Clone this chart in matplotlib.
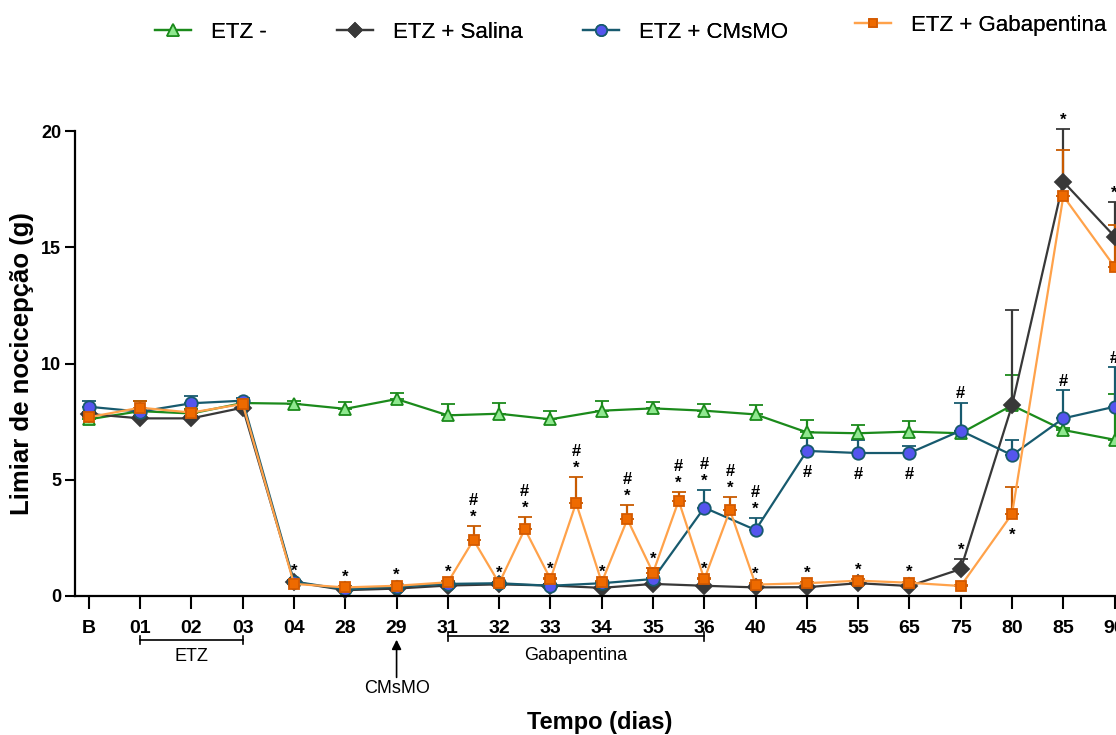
import matplotlib.pyplot as plt
import matplotlib.transforms as mtransforms
from matplotlib.lines import Line2D
import numpy as np

plt.rcParams['font.family'] = ['Liberation Sans', 'DejaVu Sans']

# --- data ---
x_labels = ['B', '01', '02', '03', '04', '28', '29', '31', '32', '33', '34',
            '35', '36', '40', '45', '55', '65', '75', '80', '85', '90']
x_main = list(range(len(x_labels)))
# gabapentina group was also measured between the days of treatment
x_gaba = [0, 1, 2, 3, 4, 5, 6, 7, 7.5, 8, 8.5, 9, 9.5, 10, 10.5, 11, 11.5,
          12, 12.5, 13, 14, 15, 16, 17, 18, 19, 20]

etz_neg = [7.6, 7.95, 7.85, 8.3, 8.27, 8.05, 8.47, 7.77, 7.84, 7.6, 7.97,
           8.07, 7.97, 7.81, 7.04, 7.0, 7.07, 7.0, 8.2, 7.14, 6.72]
etz_neg_err = [0.15, 0.45, 0.2, 0.1, 0.1, 0.3, 0.25, 0.48, 0.45, 0.37, 0.43,
               0.26, 0.3, 0.4, 0.53, 0.35, 0.46, 0.1, 1.3, 0.1, 1.95]

salina = [7.83, 7.64, 7.64, 8.1, 0.6, 0.25, 0.32, 0.45, 0.5, 0.45, 0.35,
          0.52, 0.44, 0.37, 0.38, 0.55, 0.43, 1.16, 8.2, 17.82, 15.46]
salina_err = [0.1, 0.1, 0.1, 0.1, 0.1, 0.05, 0.05, 0.05, 0.05, 0.05, 0.05,
              0.05, 0.05, 0.05, 0.05, 0.05, 0.05, 0.42, 4.1, 2.25, 1.5]

cmsmo = [8.14, 7.93, 8.29, 8.4, 0.62, 0.28, 0.4, 0.52, 0.55, 0.44, 0.55,
         0.73, 3.8, 2.84, 6.24, 6.15, 6.15, 7.11, 6.06, 7.64, 8.14]
cmsmo_err = [0.25, 0.1, 0.33, 0.1, 0.05, 0.05, 0.05, 0.05, 0.05, 0.05, 0.05,
             0.05, 0.75, 0.5, 0.54, 0.55, 0.3, 1.2, 0.65, 1.2, 1.7]

gaba = [7.69, 8.1, 7.89, 8.26, 0.52, 0.37, 0.44, 0.59, 2.41, 0.55, 2.88,
        0.73, 4.0, 0.59, 3.3, 1.0, 4.1, 0.72, 3.69, 0.49, 0.55, 0.66, 0.57,
        0.43, 3.53, 17.2, 14.16]
gaba_err = [0.1, 0.3, 0.1, 0.1, 0.05, 0.05, 0.05, 0.05, 0.6, 0.05, 0.53,
            0.05, 1.1, 0.05, 0.6, 0.2, 0.37, 0.05, 0.57, 0.05, 0.05, 0.05,
            0.05, 0.05, 1.15, 2.0, 1.8]

# significance marks: (x position, group, text, side)
marks = [
    (4, 'sal', '*', 'up'), (5, 'gab', '*', 'up'), (6, 'gab', '*', 'up'),
    (7, 'gab', '*', 'up'), (7.5, 'gab', '#\n*', 'up'), (8, 'gab', '*', 'up'),
    (8.5, 'gab', '#\n*', 'up'), (9, 'gab', '*', 'up'), (9.5, 'gab', '#\n*', 'up'),
    (10, 'gab', '*', 'up'), (10.5, 'gab', '#\n*', 'up'), (11, 'gab', '*', 'up'),
    (11.5, 'gab', '#\n*', 'up'), (12, 'cms', '#\n*', 'up'), (12, 'gab', '*', 'up'),
    (12.5, 'gab', '#\n*', 'up'), (13, 'cms', '#\n*', 'up'), (13, 'gab', '*', 'up'),
    (14, 'cms', '#', 'down'), (14, 'gab', '*', 'up'),
    (15, 'cms', '#', 'down'), (15, 'gab', '*', 'up'),
    (16, 'cms', '#', 'down'), (16, 'gab', '*', 'up'),
    (17, 'cms', '#', 'up'), (17, 'sal', '*', 'up'),
    (18, 'gab', '*', 'down'),
    (19, 'sal', '*', 'up'), (19, 'cms', '#', 'up'),
    (20, 'sal', '*', 'up'), (20, 'cms', '#', 'up'),
]

labels = ['ETZ -', 'ETZ + Salina', 'ETZ + CMsMO', 'ETZ + Gabapentina']

styles = {
    'neg': dict(color='#1b8a1b', marker='^', mfc='#8fe88f', mec='#1b8a1b', ms=9, ecolor='#1b8a1b'),
    'sal': dict(color='#383838', marker='D', mfc='#383838', mec='#383838', ms=8, ecolor='#383838'),
    'cms': dict(color='#175a6e', marker='o', mfc='#5555ee', mec='#175a6e', ms=9, ecolor='#175a6e'),
    'gab': dict(color='#ffa24a', marker='s', mfc='#ee6a00', mec='#d45a00', ms=6.5, ecolor='#c85a00'),
}
series = {
    'neg': (x_main, etz_neg, etz_neg_err),
    'sal': (x_main, salina, salina_err),
    'cms': (x_main, cmsmo, cmsmo_err),
    'gab': (x_gaba, gaba, gaba_err),
}

fig = plt.figure(figsize=(11.16, 7.35), dpi=100)
ax = fig.add_axes([75 / 1116, 139 / 735, 1055 / 1116, 465 / 735])

handles = []
for key, lab in zip(['neg', 'sal', 'cms', 'gab'], labels):
    xs, ys, es = series[key]
    st = styles[key]
    ax.errorbar(xs, ys, yerr=[np.zeros(len(es)), es], color=st['color'], lw=1.6,
                marker=st['marker'], mfc=st['mfc'], mec=st['mec'], ms=st['ms'],
                mew=1.3, ecolor=st['ecolor'], elinewidth=1.6, capsize=5,
                capthick=1.6, clip_on=False)
    handles.append(Line2D([], [], color=st['color'], lw=1.6, marker=st['marker'],
                          mfc=st['mfc'], mec=st['mec'], ms=st['ms'] * 0.9, mew=1.2))

for xp, key, txt, side in marks:
    xs, ys, es = series[key]
    i = list(xs).index(xp)
    if side == 'up':
        ax.annotate(txt, (xp, ys[i] + es[i]), xytext=(0, 1), textcoords='offset points',
                    ha='center', va='bottom', fontsize=12, fontweight='bold',
                    linespacing=1.15, annotation_clip=False)
    else:
        ax.annotate(txt, (xp, ys[i]), xytext=(0, -10), textcoords='offset points',
                    ha='center', va='top', fontsize=12, fontweight='bold',
                    annotation_clip=False)

ax.set_xlim(-0.27, 20.3)
ax.set_ylim(0, 20)
ax.set_yticks([0, 5, 10, 15, 20])
ax.set_xticks(x_main)
ax.set_xticklabels(x_labels, fontweight='bold', fontsize=14)
for t in ax.get_yticklabels():
    t.set_fontweight('bold')
    t.set_fontsize(13)
ax.tick_params(axis='x', length=9, width=1.5, pad=8)
ax.tick_params(axis='y', length=7, width=1.5, pad=3)
for s in ['top', 'right']:
    ax.spines[s].set_visible(False)
for s in ['left', 'bottom']:
    ax.spines[s].set_linewidth(1.6)

ax.set_ylabel('Limiar de nocicepção (g)', fontsize=18.5, fontweight='bold')
ax.yaxis.set_label_coords(-41 / 1055, 0.5)
fig.text(600 / 1116, 1 - 722 / 735, 'Tempo (dias)', ha='center', va='center',
         fontsize=17, fontweight='bold')

# treatment brackets below the axis
trans = mtransforms.blended_transform_factory(ax.transData, ax.transAxes)
for x0, x1, yb, name, ty in [(1, 3, -0.095, 'ETZ', -0.131), (7, 12, -0.087, 'Gabapentina', -0.127)]:
    ax.plot([x0, x1], [yb, yb], color='black', lw=1.2, transform=trans, clip_on=False)
    for xe in (x0, x1):
        ax.plot([xe, xe], [yb - 0.009, yb + 0.009], color='black', lw=1.2,
                transform=trans, clip_on=False)
    ax.text((x0 + x1) / 2, ty, name, transform=trans, ha='center', va='center',
            fontsize=13)
ax.annotate('', xy=(6, -0.088), xytext=(6, -0.181), xycoords=trans, textcoords=trans,
            arrowprops=dict(arrowstyle='-|>', color='black', lw=1.2, mutation_scale=14))
ax.text(6, -0.198, 'CMsMO', transform=trans, ha='center', va='center', fontsize=13)

# legend entries placed one by one across the top
legend_x = [155, 337, 583, 855]
legend_y = [32, 32, 32, 25]
for h, lab, lx, ly in zip(handles, labels, legend_x, legend_y):
    lg = fig.legend([h], [lab], loc='center left', bbox_to_anchor=(lx / 1116, 1 - ly / 735),
                    frameon=False, handlelength=1.6, handletextpad=0.9, borderpad=0,
                    borderaxespad=0, prop={'size': 16})
    fig.add_artist(lg)

fig.savefig('out.png', dpi=100)
